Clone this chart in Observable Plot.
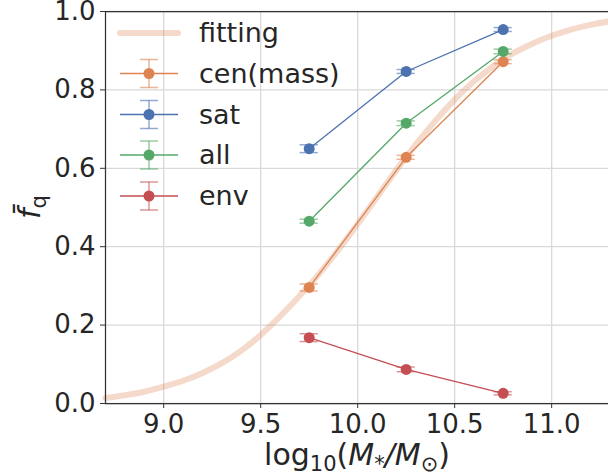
<!DOCTYPE html>
<html>
<head>
<meta charset="utf-8">
<script src="https://cdn.jsdelivr.net/npm/d3@7"></script>
<script src="https://cdn.jsdelivr.net/npm/@observablehq/plot@0.6"></script>
<style>
  html, body { margin: 0; padding: 0; background: white; }
  #chart { position: relative; width: 608px; height: 476px; }
</style>
</head>
<body>
<div id="chart"></div>
<script>
// ---- data ----
const xBins = [9.75, 10.25, 10.75];

const cenY   = [0.296, 0.628, 0.872];
const cenErr = [0.009, 0.005, 0.005];
const satY   = [0.650, 0.847, 0.954];
const satErr = [0.010, 0.005, 0.005];
const allY   = [0.465, 0.715, 0.898];
const allErr = [0.005, 0.006, 0.006];
const envY   = [0.168, 0.087, 0.026];
const envErr = [0.010, 0.006, 0.004];

const fitX = [8.7, 8.8, 8.9, 9.0, 9.1, 9.2, 9.3, 9.4, 9.5, 9.6, 9.7, 9.8, 9.9, 10.0,
              10.1, 10.2, 10.3, 10.4, 10.5, 10.6, 10.7, 10.8, 10.9, 11.0, 11.1, 11.2, 11.3];
const fitY = [0.014, 0.021, 0.030, 0.043, 0.058, 0.078, 0.103, 0.135, 0.175, 0.222, 0.274,
              0.330, 0.392, 0.458, 0.527, 0.596, 0.661, 0.721, 0.775, 0.822, 0.861, 0.893,
              0.918, 0.938, 0.954, 0.966, 0.975];

const xTicks = [9.0, 9.5, 10.0, 10.5, 11.0];
const yTicks = [0.0, 0.2, 0.4, 0.6, 0.8, 1.0];

const seriesNames  = ["cen(mass)", "sat", "all", "env"];
const seriesColors = ["#dd8452", "#4c72b0", "#55a868", "#c44e52"];
const fitColor = "#dd8452";

// ---- build tables ----
const seriesY = [cenY, satY, allY, envY];
const seriesE = [cenErr, satErr, allErr, envErr];
const series = seriesNames.map((name, i) => ({
  name, color: seriesColors[i],
  data: xBins.map((x, j) => ({x, y: seriesY[i][j], e: seriesE[i][j]}))
}));
const fitData = fitX.map((x, i) => ({x, y: fitY[i]}));
const cap = 0.047;

const seriesMarks = series.flatMap(s => [
  Plot.ruleX(s.data, {x: "x", y1: d => d.y - d.e, y2: d => d.y + d.e, stroke: s.color, strokeOpacity: 0.6, strokeWidth: 1.5}),
  Plot.ruleY(s.data, {y: d => d.y - d.e, x1: d => d.x - cap, x2: d => d.x + cap, stroke: s.color, strokeOpacity: 0.6, strokeWidth: 1.5}),
  Plot.ruleY(s.data, {y: d => d.y + d.e, x1: d => d.x - cap, x2: d => d.x + cap, stroke: s.color, strokeOpacity: 0.6, strokeWidth: 1.5}),
  Plot.line(s.data, {x: "x", y: "y", stroke: s.color, strokeWidth: 1.3}),
  Plot.dot(s.data, {x: "x", y: "y", r: 5.5, fill: s.color, stroke: "none"})
]);

const plot = Plot.plot({
  width: 608, height: 476,
  marginLeft: 105, marginRight: 0, marginTop: 11, marginBottom: 73,
  x: {domain: [8.7, 11.293]},
  y: {domain: [0, 1]},
  style: {fontFamily: "'DejaVu Sans', sans-serif", fontSize: "26px", color: "#262626", background: "white", overflow: "visible"},
  marks: [
    Plot.gridX(xTicks, {stroke: "#d9d9d9", strokeOpacity: 1, strokeWidth: 1.3}),
    Plot.gridY(yTicks, {stroke: "#d9d9d9", strokeOpacity: 1, strokeWidth: 1.3}),
    Plot.line(fitData, {x: "x", y: "y", stroke: fitColor, strokeOpacity: 0.3, strokeWidth: 6, curve: "natural"}),
    ...seriesMarks,
    Plot.ruleX([8.7], {stroke: "#333", strokeWidth: 1.25}),
    Plot.ruleY([0, 1], {stroke: "#333", strokeWidth: 1.25}),
    Plot.axisX(xTicks, {tickFormat: d3.format(".1f"), tickSize: 5, tickPadding: 6, label: null, stroke: "#333", fill: "#262626", fontSize: 26}),
    Plot.axisY(yTicks, {tickFormat: d3.format(".1f"), tickSize: 5, tickPadding: 5, label: null, stroke: "#333", fill: "#262626", fontSize: 26})
  ]
});
document.getElementById("chart").appendChild(plot);

// ---- legend and axis labels ----
const svg = d3.select(plot);
const lg = svg.append("g").attr("font-family", "'DejaVu Sans', sans-serif").attr("font-size", 27)
  .attr("fill", "#262626").attr("text-anchor", "start");
const rowY = [33, 73.5, 114.5, 155, 196];
const hx1 = 120, hx2 = 178, hxm = 149;
lg.append("line").attr("x1", hx1).attr("x2", hx2).attr("y1", rowY[0]).attr("y2", rowY[0])
  .attr("stroke", fitColor).attr("stroke-opacity", 0.3).attr("stroke-width", 6).attr("stroke-linecap", "round");
lg.append("text").attr("x", 199).attr("y", rowY[0]).attr("dy", "0.35em").text("fitting");
series.forEach((s, i) => {
  const y = rowY[i + 1];
  const g = lg.append("g");
  g.append("line").attr("x1", hx1).attr("x2", hx2).attr("y1", y).attr("y2", y).attr("stroke", s.color).attr("stroke-width", 1.3);
  g.append("line").attr("x1", hxm).attr("x2", hxm).attr("y1", y - 14).attr("y2", y + 14).attr("stroke", s.color).attr("stroke-opacity", 0.6).attr("stroke-width", 1.5);
  g.append("line").attr("x1", hxm - 9).attr("x2", hxm + 9).attr("y1", y - 14).attr("y2", y - 14).attr("stroke", s.color).attr("stroke-opacity", 0.6).attr("stroke-width", 1.5);
  g.append("line").attr("x1", hxm - 9).attr("x2", hxm + 9).attr("y1", y + 14).attr("y2", y + 14).attr("stroke", s.color).attr("stroke-opacity", 0.6).attr("stroke-width", 1.5);
  g.append("circle").attr("cx", hxm).attr("cy", y).attr("r", 5.5).attr("fill", s.color);
  lg.append("text").attr("x", 199).attr("y", y).attr("dy", "0.35em").text(s.name);
});

// x label: log10(M*/M⊙)
const xl = svg.append("text").attr("x", 357).attr("y", 465).attr("text-anchor", "middle")
  .attr("font-family", "'DejaVu Sans', sans-serif").attr("font-size", 30).attr("fill", "#262626");
xl.append("tspan").text("log");
xl.append("tspan").attr("font-size", 21).attr("dy", 6).text("10");
xl.append("tspan").attr("dy", -6).text("(");
xl.append("tspan").attr("font-style", "italic").text("M");
xl.append("tspan").attr("font-size", 21).attr("dy", 6).text("*");
xl.append("tspan").attr("dy", -6).attr("font-style", "italic").text("/M");
xl.append("tspan").attr("font-size", 21).attr("dy", 6).text("⊙");
xl.append("tspan").attr("dy", -6).text(")");

// y label: f̄_q
const yl = svg.append("text").attr("transform", "translate(40,207) rotate(-90)").attr("text-anchor", "middle")
  .attr("font-family", "'DejaVu Sans', sans-serif").attr("font-size", 30).attr("fill", "#262626");
yl.append("tspan").attr("font-style", "italic").text("f\u0304");
yl.append("tspan").attr("font-size", 21).attr("dy", 6).text("q");
</script>
</body>
</html>
